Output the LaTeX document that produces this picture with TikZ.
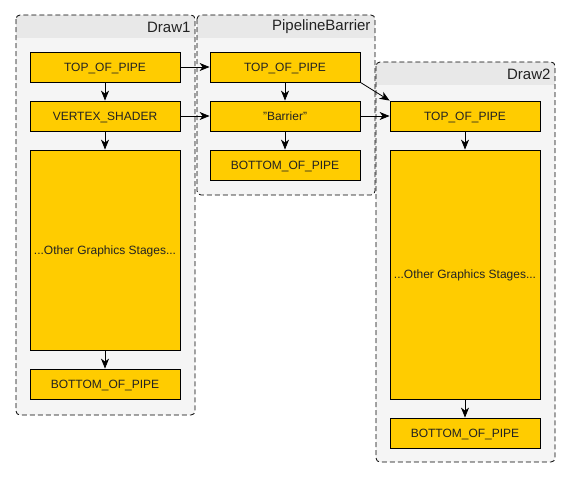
\documentclass[tikz,border=0pt]{standalone}
\usepackage{fontspec}
\setmainfont{Liberation Sans}
\usepackage{xcolor}
\usetikzlibrary{arrows.meta,positioning}
\definecolor{stagegold}{HTML}{FFCC00}
\definecolor{grouphead}{HTML}{E8E8E8}
\definecolor{groupbody}{HTML}{F5F5F5}
\definecolor{textgrey}{HTML}{222222}
\tikzset{font={\fontsize{12pt}{14}\selectfont}}

\begin{document}
\begin{tikzpicture}[x=1pt,y=-1pt,
stage/.style={draw,line width=0.8pt,fill=stagegold,text=textgrey,minimum width=150,minimum height=30,inner sep=0,text height=8.6pt,text depth=0pt},
flow/.style={-{Stealth[length=10pt,width=8pt,inset=3pt]},line width=0.8pt}
]
\useasboundingbox (0,0) rectangle (570,479);
\foreach \xa/\ya/\xb/\yb/\t in {16/15/195/415/Draw1,197/15/375/195/PipelineBarrier,376/62/555/462/Draw2}{
\begin{scope}
\clip[rounded corners=4] (\xa,\ya) rectangle (\xb,\yb);
\fill[groupbody] (\xa,\ya) rectangle (\xb,\yb);
\fill[grouphead] (\xa,\ya) rectangle (\xb,\ya+23);
\end{scope}
\draw[dash pattern=on 5pt off 3pt,line width=0.8pt,rounded corners=4] (\xa,\ya) rectangle (\xb,\yb);
\node[anchor=east,font={\fontsize{15pt}{17}\selectfont},text=textgrey] at (\xb-1,\ya+12) {\t};
}

% Draw1
\node[stage] (d1top) at (105,67) {TOP\_OF\_PIPE};
\node[stage] (d1vs) at (105,116) {VERTEX\_SHADER};
\node[stage,minimum height=200] (d1other) at (105,250) {...Other Graphics Stages...};
\node[stage] (d1bot) at (105,384) {BOTTOM\_OF\_PIPE};

% PipelineBarrier
\node[stage] (pbtop) at (285,67) {TOP\_OF\_PIPE};
\node[stage] (pbbar) at (285,116) {"Barrier"};
\node[stage] (pbbot) at (285,165) {BOTTOM\_OF\_PIPE};

% Draw2
\node[stage] (d2top) at (465,116) {TOP\_OF\_PIPE};
\node[stage,minimum height=249] (d2other) at (465,274.5) {...Other Graphics Stages...};
\node[stage] (d2bot) at (465,433) {BOTTOM\_OF\_PIPE};

\draw[flow] (d1top) -- (d1vs);
\draw[flow] (d1vs) -- (d1other);
\draw[flow] (d1other) -- (d1bot);
\draw[flow] (pbtop) -- (pbbar);
\draw[flow] (pbbar) -- (pbbot);
\draw[flow] (d2top) -- (d2other);
\draw[flow] (d2other) -- (d2bot);

\draw[flow] (d1top) -- (pbtop);
\draw[flow] (d1vs) -- (pbbar);
\draw[flow] (pbbar) -- (d2top);
\draw[flow] (pbtop.south east) -- (d2top.north west);
\end{tikzpicture}
\end{document}
